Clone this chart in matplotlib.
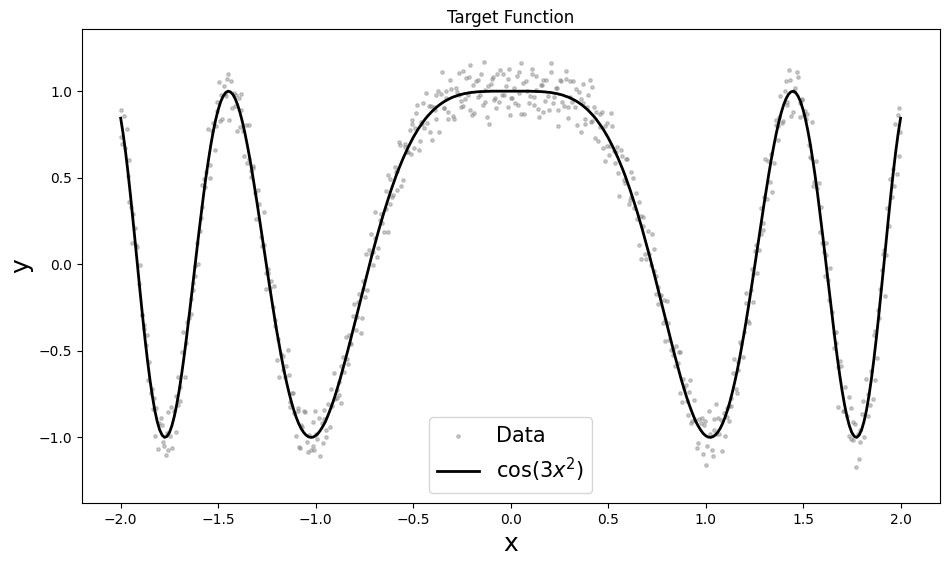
import numpy as np
import matplotlib.pyplot as plt

# curve values for x = 0 .. 2 in steps of 0.0125 (the curve is symmetric)
curve_half = [1.000, 1.000, 1.000, 1.000, 1.000, 1.000, 1.000, 1.000, 1.000, 0.999,
              0.999, 0.998, 0.998, 0.997, 0.996, 0.994, 0.993, 0.991, 0.988, 0.986,
              0.982, 0.979, 0.974, 0.969, 0.964, 0.957, 0.950, 0.942, 0.933, 0.923,
              0.912, 0.900, 0.887, 0.872, 0.857, 0.840, 0.821, 0.801, 0.780, 0.756,
              0.732, 0.705, 0.677, 0.647, 0.616, 0.582, 0.548, 0.511, 0.471, 0.431,
              0.388, 0.344, 0.299, 0.251, 0.203, 0.152, 0.101, 0.048, -0.006, -0.061,
              -0.117, -0.173, -0.229, -0.286, -0.342, -0.398, -0.454, -0.508, -0.561, -0.614,
              -0.665, -0.712, -0.758, -0.800, -0.839, -0.875, -0.909, -0.935, -0.958, -0.977,
              -0.990, -0.998, -1.000, -0.996, -0.986, -0.970, -0.948, -0.919, -0.883, -0.841,
              -0.793, -0.738, -0.678, -0.612, -0.540, -0.463, -0.383, -0.297, -0.209, -0.118,
              -0.025, 0.069, 0.164, 0.258, 0.350, 0.440, 0.527, 0.609, 0.685, 0.756,
              0.819, 0.874, 0.920, 0.956, 0.982, 0.996, 1.000, 0.991, 0.970, 0.938,
              0.893, 0.837, 0.769, 0.691, 0.602, 0.506, 0.401, 0.289, 0.173, 0.053,
              -0.068, -0.189, -0.308, -0.424, -0.534, -0.636, -0.729, -0.810, -0.879, -0.933,
              -0.972, -0.994, -1.000, -0.987, -0.957, -0.909, -0.844, -0.762, -0.666, -0.556,
              -0.434, -0.303, -0.165, -0.023, 0.121, 0.263, 0.400, 0.530, 0.649, 0.754,
              0.844]
curve_y = curve_half[:0:-1] + curve_half
curve_x = np.linspace(-2, 2, len(curve_y))

data_x = [
    -1.999, -1.996, -1.978, -1.968, -1.958, -1.948, -1.929, -1.919, -1.901, -1.891,
    -1.881, -1.871, -1.853, -1.843, -1.833, -1.823, -1.804, -1.794, -1.776, -1.766,
    -1.756, -1.746, -1.728, -1.718, -1.708, -1.698, -1.679, -1.669, -1.651, -1.641,
    -1.631, -1.621, -1.603, -1.593, -1.583, -1.573, -1.554, -1.544, -1.526, -1.516,
    -1.506, -1.496, -1.478, -1.468, -1.458, -1.448, -1.429, -1.419, -1.401, -1.391,
    -1.381, -1.371, -1.353, -1.343, -1.333, -1.323, -1.304, -1.294, -1.276, -1.266,
    -1.256, -1.246, -1.228, -1.218, -1.208, -1.198, -1.179, -1.169, -1.151, -1.141,
    -1.131, -1.121, -1.103, -1.093, -1.083, -1.073, -1.054, -1.044, -1.026, -1.016,
    -1.006, -0.996, -0.978, -0.968, -0.958, -0.948, -0.929, -0.919, -0.901, -0.891,
    -0.881, -0.871, -0.853, -0.843, -0.833, -0.823, -0.804, -0.794, -0.776, -0.766,
    -0.756, -0.746, -0.728, -0.718, -0.708, -0.698, -0.679, -0.669, -0.651, -0.641,
    -0.631, -0.621, -0.603, -0.593, -0.583, -0.573, -0.554, -0.544, -0.526, -0.516,
    -0.506, -0.496, -0.478, -0.468, -0.458, -0.448, -0.429, -0.419, -0.401, -0.391,
    -0.381, -0.371, -0.353, -0.343, -0.333, -0.323, -0.304, -0.294, -0.276, -0.266,
    -0.256, -0.246, -0.228, -0.218, -0.208, -0.198, -0.179, -0.169, -0.151, -0.141,
    -0.131, -0.121, -0.103, -0.093, -0.083, -0.073, -0.054, -0.044, -0.026, -0.016,
    -0.006, 0.004, 0.022, 0.032, 0.042, 0.052, 0.071, 0.081, 0.099, 0.109,
    0.119, 0.129, 0.147, 0.157, 0.167, 0.177, 0.196, 0.206, 0.224, 0.234,
    0.244, 0.254, 0.272, 0.282, 0.292, 0.302, 0.321, 0.331, 0.349, 0.359,
    0.369, 0.379, 0.397, 0.407, 0.417, 0.427, 0.446, 0.456, 0.474, 0.484,
    0.494, 0.504, 0.522, 0.532, 0.542, 0.552, 0.571, 0.581, 0.599, 0.609,
    0.619, 0.629, 0.647, 0.657, 0.667, 0.677, 0.696, 0.706, 0.724, 0.734,
    0.744, 0.754, 0.772, 0.782, 0.792, 0.802, 0.821, 0.831, 0.849, 0.859,
    0.869, 0.879, 0.897, 0.907, 0.917, 0.927, 0.946, 0.956, 0.974, 0.984,
    0.994, 1.004, 1.022, 1.032, 1.042, 1.052, 1.071, 1.081, 1.099, 1.109,
    1.119, 1.129, 1.147, 1.157, 1.167, 1.177, 1.196, 1.206, 1.224, 1.234,
    1.244, 1.254, 1.272, 1.282, 1.292, 1.302, 1.321, 1.331, 1.349, 1.359,
    1.369, 1.379, 1.397, 1.407, 1.417, 1.427, 1.446, 1.456, 1.474, 1.484,
    1.494, 1.504, 1.522, 1.532, 1.542, 1.552, 1.571, 1.581, 1.599, 1.609,
    1.619, 1.629, 1.647, 1.657, 1.667, 1.677, 1.696, 1.706, 1.724, 1.734,
    1.744, 1.754, 1.772, 1.782, 1.792, 1.802, 1.821, 1.831, 1.849, 1.859,
    1.869, 1.879, 1.897, 1.907, 1.917, 1.927, 1.946, 1.956, 1.974, 1.984,
    1.994, 1.999]

data_y = [
    0.894, 0.734, 0.669, 0.779, 0.360, 0.330, 0.211, 0.111, -0.005, -0.295,
    -0.374, -0.464, -0.566, -0.746, -0.834, -0.994, -0.917, -0.887, -1.050, -1.100,
    -0.852, -0.992, -0.849, -0.969, -0.649, -0.789, -0.394, -0.654, -0.308, -0.198,
    -0.108, -0.008, 0.003, 0.193, 0.331, 0.491, 0.782, 0.572, 0.819, 0.659,
    0.883, 1.053, 0.840, 1.030, 0.970, 1.100, 0.902, 0.992, 0.770, 0.960,
    0.889, 0.769, 0.585, 0.805, 0.507, 0.557, 0.260, 0.430, 0.104, 0.304,
    -0.145, -0.025, -0.099, -0.249, -0.323, -0.553, -0.520, -0.610, -0.588, -0.498,
    -0.823, -0.743, -0.993, -0.833, -1.058, -0.928, -0.856, -1.026, -1.070, -0.910,
    -1.070, -0.980, -1.108, -0.918, -0.839, -0.959, -0.939, -0.719, -0.778, -0.728,
    -0.755, -0.585, -0.621, -0.421, -0.574, -0.454, -0.232, -0.382, -0.169, -0.399,
    -0.097, -0.187, 0.084, 0.174, 0.071, 0.151, 0.093, 0.253, 0.189, 0.319,
    0.518, 0.348, 0.401, 0.561, 0.538, 0.708, 0.486, 0.676, 0.647, 0.777,
    0.812, 0.672, 0.920, 0.660, 0.821, 0.931, 0.817, 0.917, 0.717, 0.907,
    0.842, 1.002, 1.113, 0.903, 1.000, 0.840, 1.014, 0.854, 0.994, 1.104,
    0.942, 0.912, 1.078, 0.978, 1.153, 0.863, 1.056, 0.966, 1.098, 0.918,
    1.009, 0.849, 1.040, 1.070, 0.950, 0.900, 1.120, 0.980, 1.030, 0.910,
    1.130, 0.960, 0.930, 1.090, 0.990, 1.160, 0.870, 1.060, 0.970, 1.100,
    0.919, 1.009, 0.848, 1.038, 1.066, 0.946, 0.893, 1.113, 0.968, 1.018,
    0.892, 1.062, 0.914, 1.114, 0.844, 0.964, 1.060, 0.910, 0.993, 0.763,
    0.932, 0.842, 0.977, 1.067, 0.827, 0.907, 0.711, 0.871, 0.670, 0.800,
    0.682, 0.632, 0.797, 0.657, 0.646, 0.526, 0.628, 0.488, 0.611, 0.351,
    0.388, 0.498, 0.259, 0.359, 0.033, 0.223, 0.031, 0.191, 0.174, -0.036,
    -0.067, -0.227, -0.179, -0.339, -0.322, -0.212, -0.494, -0.524, -0.471, -0.571,
    -0.505, -0.795, -0.698, -0.788, -0.739, -0.919, -0.899, -1.059, -0.918, -0.888,
    -0.930, -1.160, -0.980, -1.070, -0.896, -0.806, -0.978, -0.898, -0.993, -0.833,
    -0.903, -0.773, -0.548, -0.718, -0.610, -0.450, -0.393, -0.223, -0.339, -0.149,
    -0.055, 0.075, 0.084, 0.174, 0.200, 0.390, 0.597, 0.477, 0.585, 0.805,
    0.799, 0.849, 0.830, 1.000, 0.922, 1.122, 0.880, 1.000, 1.080, 0.930,
    0.953, 0.863, 0.869, 0.689, 0.612, 0.452, 0.441, 0.471, 0.123, 0.073,
    0.052, -0.088, -0.278, -0.398, -0.454, -0.594, -0.589, -0.849, -0.879, -0.769,
    -1.012, -0.912, -1.170, -0.980, -1.027, -0.867, -0.664, -0.874, -0.616, -0.776,
    -0.384, -0.544, -0.145, -0.035, 0.081, 0.051, 0.490, 0.390, 0.809, 0.519,
    0.904, 0.764]

# second batch of samples, sitting between the first ones
data_x_mid = [
    -1.9925, -1.9845, -1.9645, -1.9565, -1.9445, -1.9355, -1.9155, -1.9075, -1.8885, -1.8805,
    -1.8675, -1.8595, -1.8395, -1.8315, -1.8195, -1.8105, -1.7905, -1.7825, -1.7635, -1.7555,
    -1.7425, -1.7345, -1.7145, -1.7065, -1.6945, -1.6855, -1.6655, -1.6575, -1.6385, -1.6305,
    -1.6175, -1.6095, -1.5895, -1.5815, -1.5695, -1.5605, -1.5405, -1.5325, -1.5135, -1.5055,
    -1.4925, -1.4845, -1.4645, -1.4565, -1.4445, -1.4355, -1.4155, -1.4075, -1.3885, -1.3805,
    -1.3675, -1.3595, -1.3395, -1.3315, -1.3195, -1.3105, -1.2905, -1.2825, -1.2635, -1.2555,
    -1.2425, -1.2345, -1.2145, -1.2065, -1.1945, -1.1855, -1.1655, -1.1575, -1.1385, -1.1305,
    -1.1175, -1.1095, -1.0895, -1.0815, -1.0695, -1.0605, -1.0405, -1.0325, -1.0135, -1.0055,
    -0.9925, -0.9845, -0.9645, -0.9565, -0.9445, -0.9355, -0.9155, -0.9075, -0.8885, -0.8805,
    -0.8675, -0.8595, -0.8395, -0.8315, -0.8195, -0.8105, -0.7905, -0.7825, -0.7635, -0.7555,
    -0.7425, -0.7345, -0.7145, -0.7065, -0.6945, -0.6855, -0.6655, -0.6575, -0.6385, -0.6305,
    -0.6175, -0.6095, -0.5895, -0.5815, -0.5695, -0.5605, -0.5405, -0.5325, -0.5135, -0.5055,
    -0.4925, -0.4845, -0.4645, -0.4565, -0.4445, -0.4355, -0.4155, -0.4075, -0.3885, -0.3805,
    -0.3675, -0.3595, -0.3395, -0.3315, -0.3195, -0.3105, -0.2905, -0.2825, -0.2635, -0.2555,
    -0.2425, -0.2345, -0.2145, -0.2065, -0.1945, -0.1855, -0.1655, -0.1575, -0.1385, -0.1305,
    -0.1175, -0.1095, -0.0895, -0.0815, -0.0695, -0.0605, -0.0405, -0.0325, -0.0135, -0.0055,
    0.0075, 0.0155, 0.0355, 0.0435, 0.0555, 0.0645, 0.0845, 0.0925, 0.1115, 0.1195,
    0.1325, 0.1405, 0.1605, 0.1685, 0.1805, 0.1895, 0.2095, 0.2175, 0.2365, 0.2445,
    0.2575, 0.2655, 0.2855, 0.2935, 0.3055, 0.3145, 0.3345, 0.3425, 0.3615, 0.3695,
    0.3825, 0.3905, 0.4105, 0.4185, 0.4305, 0.4395, 0.4595, 0.4675, 0.4865, 0.4945,
    0.5075, 0.5155, 0.5355, 0.5435, 0.5555, 0.5645, 0.5845, 0.5925, 0.6115, 0.6195,
    0.6325, 0.6405, 0.6605, 0.6685, 0.6805, 0.6895, 0.7095, 0.7175, 0.7365, 0.7445,
    0.7575, 0.7655, 0.7855, 0.7935, 0.8055, 0.8145, 0.8345, 0.8425, 0.8615, 0.8695,
    0.8825, 0.8905, 0.9105, 0.9185, 0.9305, 0.9395, 0.9595, 0.9675, 0.9865, 0.9945,
    1.0075, 1.0155, 1.0355, 1.0435, 1.0555, 1.0645, 1.0845, 1.0925, 1.1115, 1.1195,
    1.1325, 1.1405, 1.1605, 1.1685, 1.1805, 1.1895, 1.2095, 1.2175, 1.2365, 1.2445,
    1.2575, 1.2655, 1.2855, 1.2935, 1.3055, 1.3145, 1.3345, 1.3425, 1.3615, 1.3695,
    1.3825, 1.3905, 1.4105, 1.4185, 1.4305, 1.4395, 1.4595, 1.4675, 1.4865, 1.4945,
    1.5075, 1.5155, 1.5355, 1.5435, 1.5555, 1.5645, 1.5845, 1.5925, 1.6115, 1.6195,
    1.6325, 1.6405, 1.6605, 1.6685, 1.6805, 1.6895, 1.7095, 1.7175, 1.7365, 1.7445,
    1.7575, 1.7655, 1.7855, 1.7935, 1.8055, 1.8145, 1.8345, 1.8425, 1.8615, 1.8695,
    1.8825, 1.8905, 1.9105, 1.9185, 1.9305, 1.9395, 1.9595, 1.9675, 1.9865, 1.9945]

data_y_mid = [
    0.694, 0.854, 0.510, 0.600, 0.123, 0.293, 0.097, -0.113, -0.293, -0.353,
    -0.406, -0.666, -0.722, -0.772, -0.829, -1.069, -0.927, -1.027, -0.974, -1.074,
    -0.823, -1.063, -0.760, -0.810, -0.706, -0.506, -0.454, -0.334, -0.289, -0.149,
    -0.067, 0.123, 0.269, 0.459, 0.446, 0.536, 0.501, 0.771, 0.797, 0.937,
    0.828, 0.978, 0.981, 1.071, 0.836, 1.056, 0.916, 0.976, 0.794, 0.984,
    0.626, 0.806, 0.609, 0.539, 0.570, 0.410, 0.348, 0.158, 0.109, -0.051,
    -0.048, -0.138, -0.127, -0.357, -0.433, -0.653, -0.532, -0.652, -0.638, -0.798,
    -0.741, -0.861, -0.849, -1.059, -0.940, -0.850, -1.086, -0.986, -1.048, -0.848,
    -1.007, -0.887, -1.035, -0.895, -0.995, -0.805, -0.820, -0.630, -0.772, -0.682,
    -0.804, -0.534, -0.548, -0.408, -0.458, -0.298, -0.306, -0.216, -0.313, -0.143,
    0.059, -0.151, 0.058, -0.002, 0.302, 0.042, 0.291, 0.241, 0.424, 0.184,
    0.491, 0.391, 0.531, 0.431, 0.692, 0.452, 0.697, 0.647, 0.635, 0.835,
    0.786, 0.876, 0.711, 0.811, 0.790, 0.990, 0.762, 0.912, 0.890, 0.980,
    0.763, 0.983, 0.902, 0.962, 0.877, 1.067, 0.839, 1.019, 0.979, 0.909,
    1.116, 0.956, 1.081, 0.891, 1.034, 0.874, 1.067, 0.977, 1.168, 0.938,
    1.029, 0.809, 1.080, 0.960, 1.100, 0.940, 1.100, 0.980, 1.070, 0.860,
    0.960, 1.020, 0.920, 1.110, 0.870, 1.050, 1.000, 0.930, 1.129, 0.969,
    1.088, 0.898, 1.037, 0.877, 1.064, 0.974, 1.161, 0.931, 1.016, 0.796,
    1.059, 0.939, 1.069, 0.909, 1.057, 0.937, 1.012, 0.802, 0.953, 1.043,
    0.810, 0.910, 0.822, 1.022, 0.730, 0.880, 0.791, 0.881, 0.596, 0.816,
    0.685, 0.875, 0.587, 0.677, 0.392, 0.662, 0.471, 0.611, 0.371, 0.531,
    0.324, 0.414, 0.111, 0.281, 0.272, 0.062, 0.058, -0.002, 0.089, -0.171,
    -0.133, -0.183, -0.206, -0.446, -0.338, -0.438, -0.488, -0.588, -0.504, -0.744,
    -0.662, -0.712, -0.870, -0.670, -0.905, -0.785, -1.035, -0.895, -1.097, -0.907,
    -1.048, -0.848, -1.106, -0.956, -0.980, -0.890, -1.079, -0.859, -0.881, -0.821,
    -0.818, -0.628, -0.742, -0.562, -0.463, -0.533, -0.167, -0.327, -0.028, -0.218,
    0.109, -0.051, 0.328, 0.238, 0.610, 0.380, 0.639, 0.419, 0.836, 0.716,
    0.974, 0.814, 1.056, 0.936, 1.066, 0.856, 1.021, 1.111, 0.848, 0.948,
    0.887, 0.837, 0.621, 0.821, 0.476, 0.596, 0.189, 0.329, -0.067, 0.123,
    -0.209, -0.019, -0.484, -0.394, -0.826, -0.556, -0.850, -0.710, -0.993, -0.833,
    -1.014, -0.924, -1.127, -0.957, -0.789, -0.999, -0.752, -0.812, -0.406, -0.666,
    -0.263, -0.313, 0.057, -0.183, 0.323, 0.223, 0.550, 0.450, 0.864, 0.624]

fig, ax = plt.subplots(figsize=(9.5, 5.66), dpi=100)
fig.subplots_adjust(left=0.086, right=0.989, top=0.949, bottom=0.111)

ax.scatter(data_x + data_x_mid, data_y + data_y_mid, s=6, color='gray', alpha=0.4, label='Data')
ax.plot(curve_x, curve_y, color='black', linewidth=2, label=r'$\cos(3x^2)$')

ax.set_xlim(-2.2, 2.2)
ax.set_ylim(-1.38, 1.36)
ax.set_title('Target Function', pad=4.5)
ax.set_xlabel('x', fontsize=18)
ax.set_ylabel('y', fontsize=18)
ax.legend(loc='lower center', fontsize=15)

fig.savefig('out.png')
